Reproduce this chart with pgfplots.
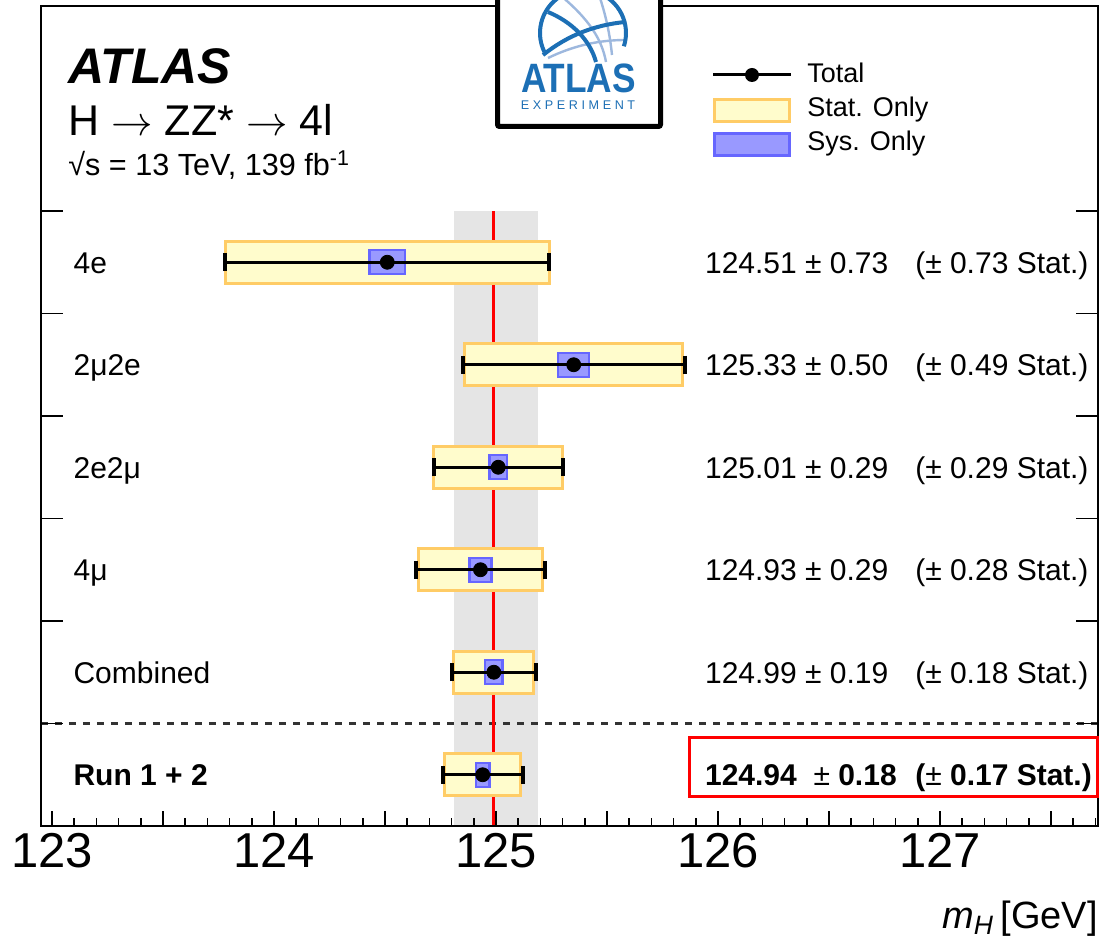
\documentclass[border=0pt]{standalone}
\usepackage{fontspec}
\setmainfont{Liberation Sans}
\usepackage{pgfplots}
\pgfplotsset{compat=1.18}
\usepackage{pgfplotstable}

\definecolor{statfill}{HTML}{FFFCCC}
\definecolor{statdraw}{HTML}{FFCC66}
\definecolor{sysfill}{HTML}{9999FF}
\definecolor{sysdraw}{HTML}{6666FF}
\definecolor{band}{HTML}{E5E5E5}
\definecolor{atlasblue}{HTML}{1C6FB5}
\definecolor{atlaslight}{HTML}{9DB8DE}

\newcommand\fs[1]{\fontsize{#1}{#1}\selectfont}
\newcommand\ls{\hspace{1.8pt}}

% total uncertainty per channel
\pgfplotstableread{
y val tot
6 124.51 0.73
5 125.35 0.50
4 125.01 0.29
3 124.93 0.29
2 124.99 0.19
1 124.94 0.18
}\totaltab

\begin{document}
\begin{tikzpicture}
\begin{axis}[
  scale only axis, width=528.5pt, height=410pt,
  xmin=122.95, xmax=127.712, ymin=0.5, ymax=8.5,
  axis on top, clip=false,
  axis line style={line width=1pt},
  xtick={123,124,125,126,127},
  extra x ticks={123.5,124.5,125.5,126.5,127.5},
  extra x tick labels={},
  minor xtick={123.1,123.2,123.3,123.4,123.6,123.7,123.8,123.9,124.1,124.2,124.3,124.4,124.6,124.7,124.8,124.9,125.1,125.2,125.3,125.4,125.6,125.7,125.8,125.9,126.1,126.2,126.3,126.4,126.6,126.7,126.8,126.9,127.1,127.2,127.3,127.4,127.6,127.7},
  xtick pos=bottom,
  major tick length=7.5pt, minor tick length=4pt,
  x tick style={line width=0.8pt, black},
  ytick=\empty,
  extra y ticks={1.5,2.5,3.5,4.5,5.5,6.5},
  extra y tick labels={},
  extra y tick style={major tick length=11pt, tick style={line width=0.6pt, black}},
  /pgf/number format/assume math mode=true,
  xticklabel style={font=\fs{24.5pt}, inner sep=0pt, yshift=-3.5pt},
  xlabel={\textit{m}\textsubscript{\textit{H}}\,[GeV]},
  xlabel style={at={(axis description cs:1,0)}, anchor=base east, yshift=-51pt, font=\fs{19pt}, inner sep=0pt},
]
% combined band and central value
\addplot[draw=none, fill=band] coordinates {(124.81,0.5)(125.19,0.5)(125.19,6.5)(124.81,6.5)} -- cycle;
\addplot[draw=black!80, line width=1.2pt, dash pattern=on 3.5pt off 3.5pt] coordinates {(122.95,1.5)(127.712,1.5)};
\addplot[red, line width=1.6pt] coordinates {(124.99,0.5)(124.99,6.5)};

% stat-only boxes
\addplot[draw=statdraw, fill=statfill, line width=1.5pt] coordinates {(123.78,5.795)(125.24,5.795)(125.24,6.205)(123.78,6.205)} -- cycle;
\addplot[draw=statdraw, fill=statfill, line width=1.5pt] coordinates {(124.86,4.795)(125.84,4.795)(125.84,5.205)(124.86,5.205)} -- cycle;
\addplot[draw=statdraw, fill=statfill, line width=1.5pt] coordinates {(124.72,3.795)(125.30,3.795)(125.30,4.205)(124.72,4.205)} -- cycle;
\addplot[draw=statdraw, fill=statfill, line width=1.5pt] coordinates {(124.65,2.795)(125.21,2.795)(125.21,3.205)(124.65,3.205)} -- cycle;
\addplot[draw=statdraw, fill=statfill, line width=1.5pt] coordinates {(124.81,1.795)(125.17,1.795)(125.17,2.205)(124.81,2.205)} -- cycle;
\addplot[draw=statdraw, fill=statfill, line width=1.5pt] coordinates {(124.77,0.795)(125.11,0.795)(125.11,1.205)(124.77,1.205)} -- cycle;

% sys-only boxes
\addplot[draw=sysdraw, fill=sysfill, line width=1.2pt] coordinates {(124.43,5.883)(124.59,5.883)(124.59,6.117)(124.43,6.117)} -- cycle;
\addplot[draw=sysdraw, fill=sysfill, line width=1.2pt] coordinates {(125.28,4.883)(125.42,4.883)(125.42,5.117)(125.28,5.117)} -- cycle;
\addplot[draw=sysdraw, fill=sysfill, line width=1.2pt] coordinates {(124.97,3.883)(125.05,3.883)(125.05,4.117)(124.97,4.117)} -- cycle;
\addplot[draw=sysdraw, fill=sysfill, line width=1.2pt] coordinates {(124.88,2.883)(124.98,2.883)(124.98,3.117)(124.88,3.117)} -- cycle;
\addplot[draw=sysdraw, fill=sysfill, line width=1.2pt] coordinates {(124.95,1.883)(125.03,1.883)(125.03,2.117)(124.95,2.117)} -- cycle;
\addplot[draw=sysdraw, fill=sysfill, line width=1.2pt] coordinates {(124.91,0.883)(124.97,0.883)(124.97,1.117)(124.91,1.117)} -- cycle;

% total uncertainty
\addplot[only marks, mark=*, mark size=3.5pt, black,
  error bars/.cd, x dir=both, x explicit,
  error bar style={line width=1.5pt, black},
  error mark options={mark size=4.5pt, line width=2pt, black, rotate=90}]
  table[x=val, y=y, x error=tot] {\totaltab};

% channel labels
\begin{scope}[every node/.style={anchor=base west, inner sep=0pt, font=\fs{15pt}, yshift=-5.5pt}]
\node at (axis cs:123.095,6) {4e};
\node at (axis cs:123.095,5) {2μ2e};
\node at (axis cs:123.095,4) {2e2μ};
\node at (axis cs:123.095,3) {4μ};
\node at (axis cs:123.095,2) {Combined};
\node at (axis cs:123.095,1) {\bfseries Run 1 + 2};

\node at (axis cs:125.94,6) {124.51 ± 0.73};
\node at (axis cs:125.94,5) {125.33 ± 0.50};
\node at (axis cs:125.94,4) {125.01 ± 0.29};
\node at (axis cs:125.94,3) {124.93 ± 0.29};
\node at (axis cs:125.94,2) {124.99 ± 0.19};
\node at (axis cs:125.94,1) {\textbf{124.94} \ ± \textbf{0.18}};

\node at (axis cs:126.887,6) {(± 0.73 Stat.)};
\node at (axis cs:126.887,5) {(± 0.49 Stat.)};
\node at (axis cs:126.887,4) {(± 0.29 Stat.)};
\node at (axis cs:126.887,3) {(± 0.28 Stat.)};
\node at (axis cs:126.887,2) {(± 0.18 Stat.)};
\node at (axis cs:126.887,1) {\textbf{(}± \textbf{0.17 Stat.)}};
\end{scope}
\end{axis}

% decorations in image-pixel coordinates (origin top-left)
\begin{scope}[shift={(current axis.south west)}]
\begin{scope}[shift={(-20.5pt,413pt)}, x=0.5pt, y=-0.5pt]
  % ATLAS label
  \node[anchor=base west, inner sep=0pt, font=\fs{25pt}\bfseries\itshape] at (68,84) {ATLAS};
  \node[anchor=base west, inner sep=0pt, font=\fs{21.5pt}] at (68,136) {\textup{H $\rightarrow$ ZZ* $\rightarrow$ 4l}};
  \node[anchor=base west, inner sep=0pt, font=\fs{15.3pt}] at (68,176) {√s = 13 TeV, 139 fb\textsuperscript{-1}};
  % legend
  \draw[line width=1.5pt] (713,75) -- (791,75);
  \fill (752,75) circle[radius=7];
  \draw[draw=statdraw, fill=statfill, line width=1.5pt] (714.5,99.5) rectangle (789.5,121.5);
  \draw[draw=sysdraw, fill=sysfill, line width=1.5pt] (714.5,133.5) rectangle (789.5,155.5);
  \node[anchor=base west, inner sep=0pt, font=\fs{13.5pt}] at (807,83) {Total};
  \node[anchor=base west, inner sep=0pt, font=\fs{13.5pt}] at (807,117) {Stat. Only};
  \node[anchor=base west, inner sep=0pt, font=\fs{13.5pt}] at (807,151) {Sys. Only};
  % highlight box
  \draw[red, line width=1.5pt] (689,738) rectangle (1097,797);
  % logo
  \draw[line width=2.5pt, fill=white, rounded corners=1pt] (497.5,-20) rectangle (660.5,126.5);
  \draw[atlaslight, line width=1.2pt] (560,-5) .. controls (590,20) and (602,40) .. (606,62);
  \draw[atlaslight, line width=1.2pt] (598,-8) .. controls (606,15) and (610,35) .. (612,55);
  \draw[atlaslight, line width=1.2pt] (548,58) .. controls (575,45) and (600,40) .. (626,40);
  \draw[atlasblue, line width=2pt] (583,33) ++(154:43) arc[start angle=154, end angle=378, radius=43];
  \draw[atlasblue, line width=2pt] (543,55) .. controls (568,35) and (595,25) .. (625,22);
  \draw[atlasblue, line width=2pt] (548,12) .. controls (572,22) and (590,40) .. (596,62);
  \node[atlasblue, anchor=base, inner sep=0pt, font=\fs{20.5pt}\bfseries] at (578.5,93) {\scalebox{0.86}[1]{ATLAS}};
  \node[atlasblue, anchor=base, inner sep=0pt, font=\fs{6.3pt}] at (578,109.5) {E\ls X\ls P\ls E\ls R\ls I\ls M\ls E\ls N\ls T};
\end{scope}
\end{scope}

\pgfresetboundingbox
\path ([shift={(-20.5pt,-56pt)}]current axis.south west) rectangle ([shift={(3.5pt,3pt)}]current axis.north east);
\end{tikzpicture}
\end{document}
